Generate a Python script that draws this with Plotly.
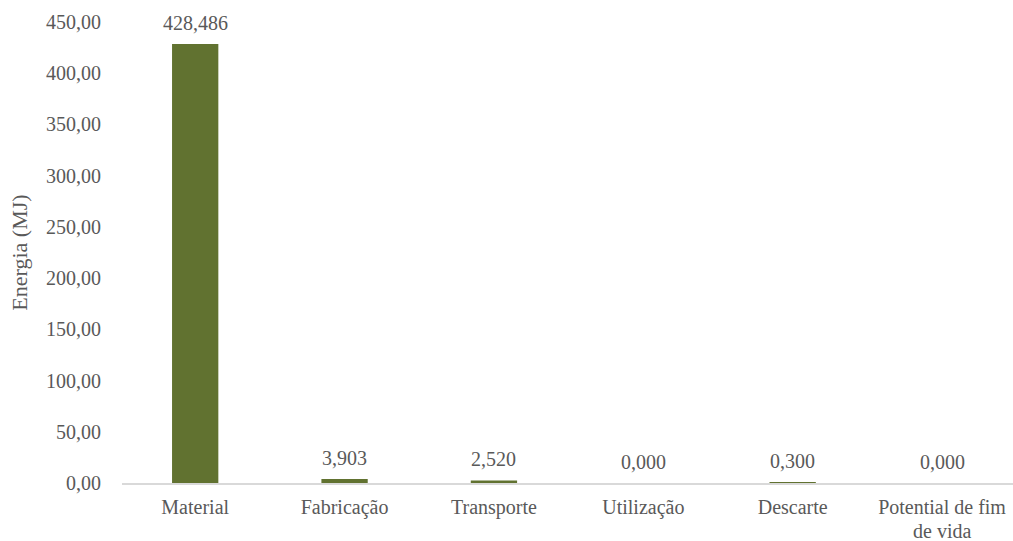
import plotly.graph_objects as go

categories = ["Material", "Fabricação", "Transporte", "Utilização", "Descarte", "Potential de fim"]
category_second_line = ["", "", "", "", "", "de vida"]
values = [428.486, 3.903, 2.520, 0.000, 0.300, 0.000]
value_labels = ["428,486", "3,903", "2,520", "0,000", "0,300", "0,000"]
y_ticks = [0, 50, 100, 150, 200, 250, 300, 350, 400, 450]
y_tick_labels = ["0,00", "50,00", "100,00", "150,00", "200,00", "250,00", "300,00", "350,00", "400,00", "450,00"]

FONT = "'Times New Roman', 'Liberation Serif', Tinos, 'DejaVu Serif', serif"
TXT = "#595959"
xs = list(range(len(categories)))

fig = go.Figure()
fig.add_trace(go.Bar(x=xs, y=values, width=0.31, marker=dict(color="#617230", line=dict(width=0)),
                     showlegend=False, hoverinfo="skip"))

for x, v, lab in zip(xs, values, value_labels):
    fig.add_annotation(x=x, y=v, text=lab, showarrow=False, xref="x", yref="y",
                       yanchor="middle", yshift=21.5,
                       font=dict(family=FONT, size=20, color=TXT))

# second line of multi-line category labels
for x, lab in zip(xs, category_second_line):
    if lab:
        fig.add_annotation(x=x, y=0, text=lab, showarrow=False, xref="x", yref="paper",
                           yanchor="middle", yshift=-48,
                           font=dict(family=FONT, size=20, color=TXT))

fig.update_layout(
    width=1013, height=541,
    margin=dict(l=122, r=0, t=21.7, b=58),
    paper_bgcolor="white", plot_bgcolor="white",
    font=dict(family=FONT, size=20, color=TXT),
    xaxis=dict(range=[-0.49, 5.475], tickvals=xs, ticktext=categories,
               showgrid=False, zeroline=False, showline=True, linecolor="#d9d9d9", linewidth=1.5,
               ticks="", ticklabelstandoff=5,
               tickfont=dict(family=FONT, size=20, color=TXT), automargin=False),
    yaxis=dict(range=[0, 450], tickvals=y_ticks, ticktext=y_tick_labels,
               showgrid=False, zeroline=False, showline=False, ticks="",
               ticklabelstandoff=20,
               tickfont=dict(family=FONT, size=20, color=TXT), automargin=False,
               title=dict(text="Energia (MJ)", standoff=12, font=dict(family=FONT, size=22, color=TXT))),
)

fig.write_html("out.html")
